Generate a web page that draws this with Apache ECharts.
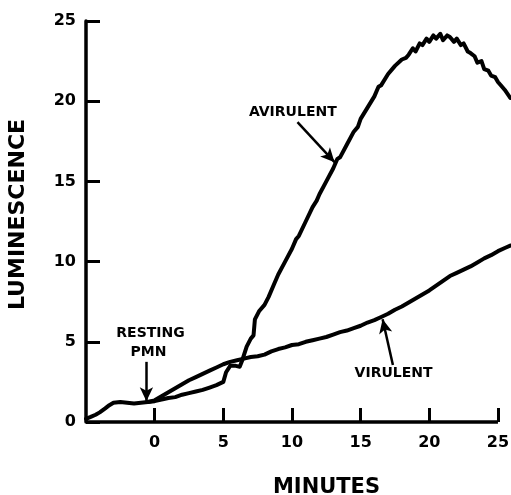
<!DOCTYPE html>
<html>
<head>
    <meta charset="utf-8">
    <title>Luminescence</title>
    <script src="https://cdn.jsdelivr.net/npm/echarts@6.0.0/dist/echarts.min.js"></script>
    <style>
        html, body { margin: 0; padding: 0; background: #fff; }
    </style>
</head>
<body>
<div id="main" style="width: 511px;height:495px;"></div>
<script type="text/javascript">
    // 刻度
    var xTicks = [0, 5, 10, 15, 20, 25];
    var yTicks = [0, 5, 10, 15, 20, 25];

    // AVIRULENT 曲线（分钟, 发光值）
    var aviMinutes = [-5, -4.7, -4.3, -4, -3.6, -3.3, -3, -2.5, -2, -1.5, -1, -0.5, 0, 0.5, 1, 1.5, 2, 2.5, 3, 3.5, 4, 4.5, 5,
        5.2, 5.5, 5.9, 6.2, 6.4, 6.7, 7.0, 7.2, 7.3, 7.6, 8.0, 8.3, 8.7, 9.0, 9.5, 10.0, 10.3, 10.5, 11.0, 11.5, 11.8, 12.0,
        12.5, 13.0, 13.3, 13.5, 14.0, 14.5, 14.8, 15.0, 15.5, 16.0, 16.3, 16.5, 17.0, 17.3, 17.5, 18.0, 18.3, 18.5, 18.8,
        19.0, 19.3, 19.5, 19.8, 20.0, 20.3, 20.5, 20.8, 21.0, 21.3, 21.5, 21.8, 22.0, 22.3, 22.5, 22.8, 23.0, 23.3, 23.5,
        23.8, 24.0, 24.3, 24.5, 24.8, 25.0, 25.3, 25.5, 25.9];
    var aviLum = [0.2, 0.3, 0.45, 0.6, 0.85, 1.05, 1.2, 1.25, 1.2, 1.15, 1.2, 1.25, 1.3, 1.4, 1.5, 1.55, 1.7, 1.8, 1.9, 2.0, 2.15, 2.3, 2.5,
        3.1, 3.5, 3.5, 3.45, 3.9, 4.7, 5.2, 5.4, 6.4, 6.9, 7.3, 7.8, 8.6, 9.2, 10.0, 10.8, 11.4, 11.6, 12.5, 13.4, 13.8, 14.2,
        15.0, 15.8, 16.4, 16.5, 17.3, 18.1, 18.4, 18.9, 19.6, 20.3, 20.9, 21.0, 21.7, 22.0, 22.2, 22.6, 22.7, 22.9, 23.3,
        23.1, 23.6, 23.5, 23.9, 23.7, 24.1, 23.9, 24.2, 23.8, 24.1, 24.0, 23.7, 23.9, 23.5, 23.6, 23.1, 23.0, 22.8, 22.4,
        22.5, 22.0, 21.9, 21.6, 21.5, 21.2, 20.9, 20.7, 20.2];

    // VIRULENT 曲线
    var virMinutes = [-0.5, 0, 0.5, 1, 1.5, 2, 2.5, 3, 3.5, 4, 4.5, 5, 5.5, 6, 6.5, 7, 7.5, 8, 8.5, 9, 9.5, 10, 10.5, 11, 11.5,
        12, 12.5, 13, 13.5, 14, 14.5, 15, 15.5, 16, 16.5, 17, 17.5, 18, 18.5, 19, 19.5, 20, 20.5, 21, 21.5, 22, 22.5, 23,
        23.5, 24, 24.5, 25, 25.5, 25.9];
    var virLum = [1.25, 1.35, 1.6, 1.85, 2.1, 2.35, 2.6, 2.8, 3.0, 3.2, 3.4, 3.6, 3.75, 3.85, 3.95, 4.05, 4.1, 4.2, 4.4, 4.55,
        4.65, 4.8, 4.85, 5.0, 5.1, 5.2, 5.3, 5.45, 5.6, 5.7, 5.85, 6.0, 6.2, 6.35, 6.55, 6.75, 7.0, 7.2, 7.45, 7.7, 7.95, 8.2,
        8.5, 8.8, 9.1, 9.3, 9.5, 9.7, 9.95, 10.2, 10.4, 10.65, 10.85, 11.0];

    function zip(xs, ys) {
        var out = [];
        for (var i = 0; i < xs.length; i++) {
            out.push([xs[i], ys[i]]);
        }
        return out;
    }

    var font = 'DejaVu Sans';
    var ink = '#000';

    var myChart = echarts.init(document.getElementById('main'));
    var option = {
        animation: false,
        backgroundColor: '#fff',
        grid: {
            left: 86,
            right: 0,
            top: 21,
            bottom: 73,
            outerBoundsMode: 'none'
        },
        xAxis: {
            type: 'value',
            min: -5,
            max: 25.95,   // 曲线画到 25 分钟刻度之外
            interval: 5,
            name: 'MINUTES',
            nameLocation: 'middle',
            nameGap: 55,
            nameTextStyle: {
                color: ink, fontFamily: font, fontWeight: 'bold', fontSize: 21,
                padding: [0, 0, 0, 56]
            },
            splitLine: { show: false },
            axisLine: { show: false, onZero: false },
            axisTick: {
                inside: true, length: 14, customValues: xTicks,
                lineStyle: { color: ink, width: 3 }
            },
            axisLabel: {
                customValues: xTicks,
                margin: 13,
                color: ink, fontFamily: font, fontWeight: 'bold', fontSize: 16
            }
        },
        yAxis: {
            type: 'value',
            min: 0,
            max: 25,
            interval: 5,
            name: 'LUMINESCENCE',
            nameLocation: 'middle',
            nameRotate: 90,
            nameGap: 57,
            nameTextStyle: {
                color: ink, fontFamily: font, fontWeight: 'bold', fontSize: 22,
                padding: [0, 0, 0, 14]
            },
            splitLine: { show: false },
            axisLine: { show: true, onZero: false, lineStyle: { color: ink, width: 3.5 } },
            axisTick: {
                show: true, inside: true, length: 14, customValues: yTicks,
                lineStyle: { color: ink, width: 3 }
            },
            axisLabel: {
                customValues: yTicks,
                margin: 10,
                color: ink, fontFamily: font, fontWeight: 'bold', fontSize: 16
            }
        },
        series: [
            {
                name: 'AVIRULENT',
                type: 'line',
                data: zip(aviMinutes, aviLum),
                showSymbol: false,
                clip: false,
                lineStyle: { color: ink, width: 4, join: 'round', cap: 'round' },
                markPoint: {
                    symbol: 'circle',
                    symbolSize: 0,
                    label: {
                        show: true, position: 'inside', color: ink,
                        fontFamily: font, fontWeight: 'bold', fontSize: 14
                    },
                    data: [
                        { coord: [10.06, 19.3], value: 'AVIRULENT' },
                        { coord: [-0.3, 5.55], value: 'RESTING' },
                        { coord: [-0.45, 4.35], value: 'PMN' }
                    ]
                },
                markLine: {
                    silent: true,
                    symbol: ['none', 'arrow'],
                    symbolSize: [10, 14],
                    label: { show: false },
                    lineStyle: { color: ink, width: 2.5, type: 'solid' },
                    data: [
                        [{ coord: [10.4, 18.7] }, { coord: [13.1, 16.2] }],
                        [{ coord: [-0.6, 3.75] }, { coord: [-0.6, 1.3] }],
                        // 横轴线，只到 25 分钟
                        [
                            { coord: [-5, 0], symbol: 'none', lineStyle: { width: 3.5 } },
                            { coord: [25, 0], symbol: 'none' }
                        ]
                    ]
                }
            },
            {
                name: 'VIRULENT',
                type: 'line',
                data: zip(virMinutes, virLum),
                showSymbol: false,
                clip: false,
                lineStyle: { color: ink, width: 4, join: 'round', cap: 'round' },
                markPoint: {
                    symbol: 'circle',
                    symbolSize: 0,
                    label: {
                        show: true, position: 'inside', color: ink,
                        fontFamily: font, fontWeight: 'bold', fontSize: 14
                    },
                    data: [
                        { coord: [17.4, 3.05], value: 'VIRULENT' }
                    ]
                },
                markLine: {
                    silent: true,
                    symbol: ['none', 'arrow'],
                    symbolSize: [10, 14],
                    label: { show: false },
                    lineStyle: { color: ink, width: 2.5, type: 'solid' },
                    data: [
                        [{ coord: [17.35, 3.55] }, { coord: [16.6, 6.4] }]
                    ]
                }
            }
        ]
    };
    myChart.setOption(option);
</script>
</body>
</html>
